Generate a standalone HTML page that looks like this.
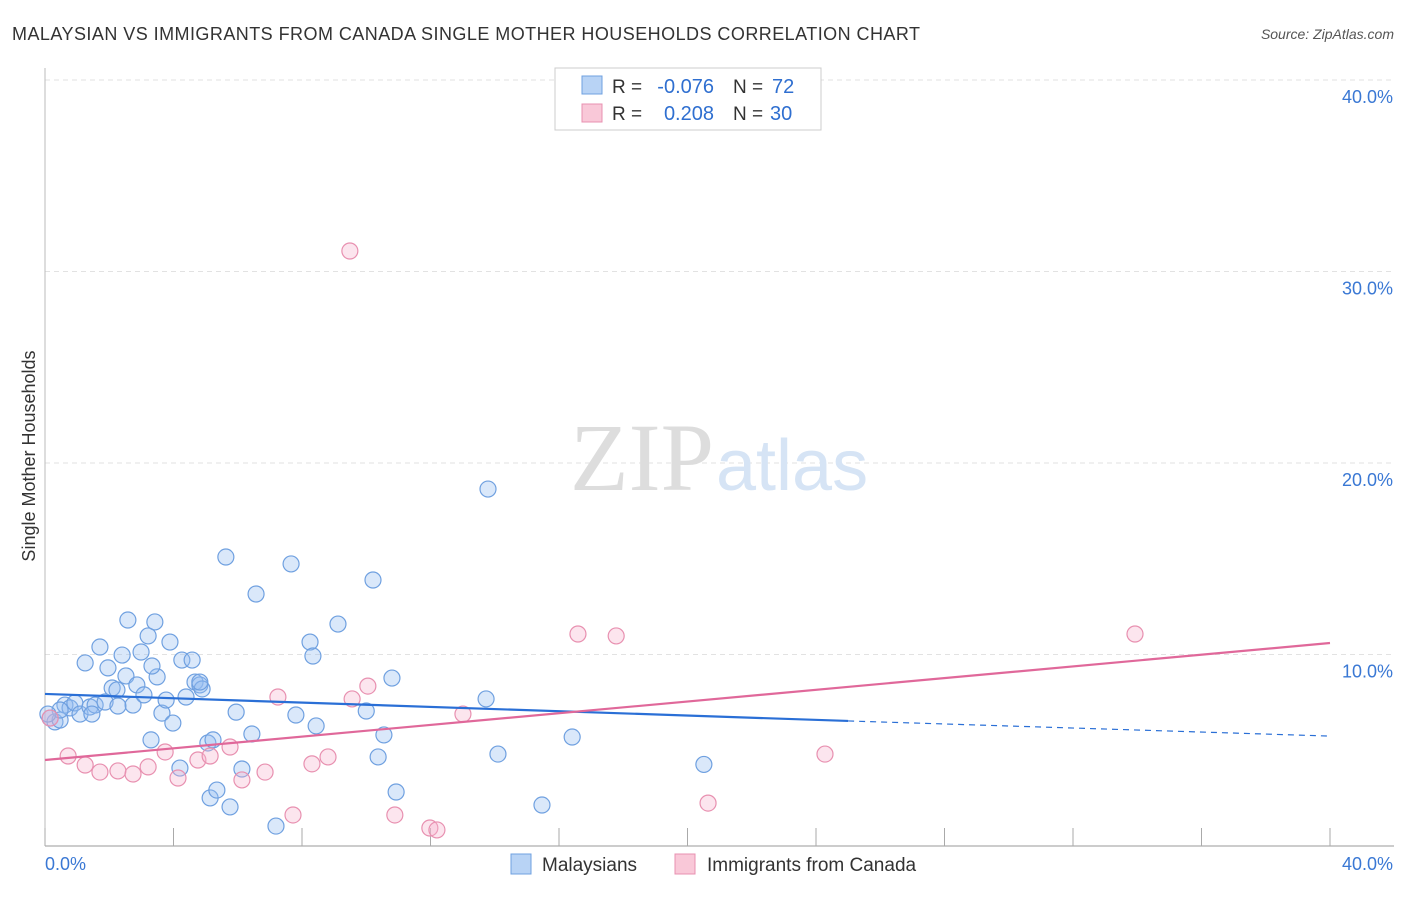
<!DOCTYPE html>
<html><head><meta charset="utf-8"><style>
body{margin:0;background:#fff;font-family:"Liberation Sans",sans-serif;}
</style></head><body>
<svg width="1406" height="892" viewBox="0 0 1406 892" xmlns="http://www.w3.org/2000/svg">
<text x="12" y="40" font-size="18" fill="#333" textLength="908">MALAYSIAN VS IMMIGRANTS FROM CANADA SINGLE MOTHER HOUSEHOLDS CORRELATION CHART</text>
<text x="1394" y="39" font-size="14" fill="#555" font-style="italic" text-anchor="end">Source: ZipAtlas.com</text>
<g id="grid"></g>
<text x="714" y="490" font-size="96" fill="#ddd" font-family="Liberation Serif" text-anchor="end">ZIP</text>
<text x="716" y="490" font-size="72" fill="#d6e4f5">atlas</text>
<text x="35" y="456" font-size="18" fill="#333" transform="rotate(-90 35 456)" text-anchor="middle">Single Mother Households</text>
<g id="marks"></g>
<g>
<rect x="555" y="68" width="266" height="62" fill="#fff" stroke="#ccc"/>
<rect x="582" y="76" width="20" height="18" fill="#b8d3f5" stroke="#6fa0e0"/>
<rect x="582" y="104" width="20" height="18" fill="#f9c8d8" stroke="#e890b0"/>
<text x="612" y="93" font-size="19" fill="#333">R =</text>
<text x="714" y="93" font-size="20" fill="#2f6fd0" text-anchor="end">-0.076</text>
<text x="733" y="93" font-size="19" fill="#333">N =</text>
<text x="772" y="93" font-size="20" fill="#2f6fd0">72</text>
<text x="612" y="120" font-size="19" fill="#333">R =</text>
<text x="714" y="120" font-size="20" fill="#2f6fd0" text-anchor="end">0.208</text>
<text x="733" y="120" font-size="19" fill="#333">N =</text>
<text x="770" y="120" font-size="20" fill="#2f6fd0">30</text>
</g>
<g>
<rect x="511" y="854" width="20" height="20" fill="#b8d3f5" stroke="#6fa0e0"/>
<text x="542" y="871" font-size="19" fill="#333">Malaysians</text>
<rect x="675" y="854" width="20" height="20" fill="#f9c8d8" stroke="#e890b0"/>
<text x="707" y="871" font-size="19" fill="#333">Immigrants from Canada</text>
</g>
</svg>
<script>
const yTicks=[10,20,30,40];
const yTickLabels=["10.0%","20.0%","30.0%","40.0%"];
const xTickLabels=["0.0%","40.0%"];
const blueX=[0.16,0.31,0.47,0.62,0.78,0.93,1.09,1.25,1.40,1.56,1.71,1.87,1.96,2.09,2.24,2.40,2.52,2.58,2.74,2.86,2.99,3.08,3.21,3.30,3.42,3.49,3.64,3.77,3.89,3.98,4.20,4.26,4.39,4.58,4.67,4.82,4.89,5.07,5.14,5.23,5.35,5.63,5.76,5.95,6.13,6.44,6.57,7.19,7.66,7.81,8.25,8.34,8.44,9.12,10.0,10.21,10.37,10.55,10.80,10.93,13.73,13.79,14.10,15.47,16.41,20.51,0.47,2.27,3.33,4.82,0.09,1.46];
const blueY=[6.68,6.48,6.58,7.36,7.21,7.47,6.89,9.56,7.26,7.36,10.39,7.52,9.30,8.25,8.15,9.97,8.88,11.80,7.36,8.41,10.13,7.89,10.97,5.54,11.70,8.83,6.94,7.62,10.65,6.42,4.07,9.71,7.78,9.71,8.56,8.41,8.20,5.38,2.51,5.54,2.92,15.09,2.04,6.99,4.02,5.85,13.16,1.04,14.73,6.84,10.65,9.92,6.27,11.59,7.05,13.89,4.65,5.80,8.77,2.82,7.68,18.64,4.80,2.14,5.69,4.26,7.10,7.31,9.40,8.56,6.89,6.89];
const pinkX=[0.16,0.72,1.25,1.71,2.27,2.74,3.21,3.74,4.14,4.76,5.14,5.76,6.13,6.85,7.25,7.72,8.31,8.81,9.49,9.56,10.05,10.89,11.98,12.20,13.01,16.59,17.78,20.64,24.28,33.93];
const pinkY=[6.68,4.70,4.23,3.86,3.92,3.76,4.13,4.91,3.55,4.49,4.70,5.17,3.45,3.86,7.78,1.62,4.29,4.65,31.07,7.68,8.35,1.62,0.94,0.84,6.89,11.07,10.97,2.24,4.80,11.07];
const blueTrend=[[0,7.94],[25,6.53],[40,5.74]];
const pinkTrend=[[0,4.49],[40,10.60]];
const X=v=>45+v*32.125, Y=v=>846-v*19.15;
const NS="http://www.w3.org/2000/svg";
function mk(t,a,p){const e=document.createElementNS(NS,t);for(const k in a)e.setAttribute(k,a[k]);p.appendChild(e);return e;}
const grid=document.getElementById('grid'), marks=document.getElementById('marks');
yTicks.forEach((t,i)=>{
 const l=mk('line',{x1:45,x2:1394,y1:Y(t),y2:Y(t),stroke:'#e2e2e2','stroke-dasharray':'5,4'},grid);
 
 
 const tx=mk('text',{x:1393,y:Y(t)+23,'font-size':18,fill:'#3a78d4','text-anchor':'end'},grid);
 tx.textContent=yTickLabels[i];
 
 
});
const ax=mk('line',{x1:45,x2:1394,y1:846,y2:846,stroke:'#999'},grid);


const ay=mk('line',{x1:45,x2:45,y1:68,y2:846,stroke:'#bbb'},grid);


for(let i=0;i<=10;i++){const t=mk('line',{x1:X(i*4),x2:X(i*4),y1:828,y2:846,stroke:'#aaa'},grid);
 
 }
[[0,45,'start'],[40,1393,'end']].forEach((d,i)=>{const t=mk('text',{x:d[1],y:870,'font-size':18,fill:'#3a78d4','text-anchor':d[2]},grid);t.textContent=xTickLabels[i];
 
 });
blueX.forEach((v,i)=>{const c=mk('circle',{cx:X(v),cy:Y(blueY[i]),r:8,fill:'rgba(150,190,240,0.35)',stroke:'#6fa0e0','stroke-width':1.2},marks);
 
 });
pinkX.forEach((v,i)=>{const c=mk('circle',{cx:X(v),cy:Y(pinkY[i]),r:8,fill:'rgba(245,180,205,0.35)',stroke:'#e890b0','stroke-width':1.2},marks);
 
 });
const b1=mk('line',{x1:X(blueTrend[0][0]),y1:Y(blueTrend[0][1]),x2:X(blueTrend[1][0]),y2:Y(blueTrend[1][1]),stroke:'#2a6fd6','stroke-width':2.2},marks);


const b2=mk('line',{x1:X(blueTrend[1][0]),y1:Y(blueTrend[1][1]),x2:X(blueTrend[2][0]),y2:Y(blueTrend[2][1]),stroke:'#2a6fd6','stroke-width':1.2,'stroke-dasharray':'6,5'},marks);


const p1=mk('line',{x1:X(pinkTrend[0][0]),y1:Y(pinkTrend[0][1]),x2:X(pinkTrend[1][0]),y2:Y(pinkTrend[1][1]),stroke:'#e0689a','stroke-width':2.2},marks);


</script>
</body></html>
